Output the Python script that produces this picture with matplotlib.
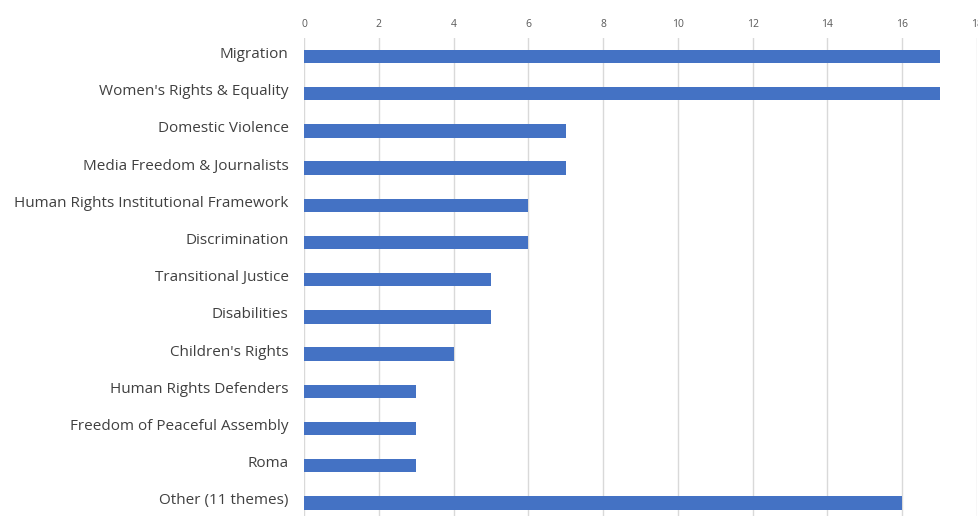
import matplotlib.pyplot as plt
from matplotlib.transforms import ScaledTranslation

themes = [
    "Migration",
    "Women's Rights & Equality",
    "Domestic Violence",
    "Media Freedom & Journalists",
    "Human Rights Institutional Framework",
    "Discrimination",
    "Transitional Justice",
    "Disabilities",
    "Children's Rights",
    "Human Rights Defenders",
    "Freedom of Peaceful Assembly",
    "Roma",
    "Other (11 themes)",
]
counts = [17, 17, 7, 7, 6, 6, 5, 5, 4, 3, 3, 3, 16]
x_ticks = [0, 2, 4, 6, 8, 10, 12, 14, 16, 18]

plt.rcParams["font.family"] = ["Open Sans", "DejaVu Sans"]

fig = plt.figure(figsize=(9.79, 5.16), dpi=100)
ax = fig.add_axes([304 / 979, 0.0, 673 / 979, 478 / 516])

pos = list(range(len(themes)))
ax.barh(pos, counts, height=0.36, color="#4472C4", zorder=3)

ax.set_xlim(0, 18)
ax.set_ylim(12.35, -0.5)
ax.set_xticks(x_ticks)
ax.set_yticks(pos)
ax.set_yticklabels(themes, fontsize=11, color="#404040")

ax.xaxis.tick_top()
ax.tick_params(axis="x", length=0, pad=6, labelsize=7.5, labelcolor="#595959")
ax.tick_params(axis="y", length=0, pad=11)
ax.grid(axis="x", color="#D9D9D9", linewidth=1, zorder=0)
for side in ["top", "right", "bottom", "left"]:
    ax.spines[side].set_visible(False)

# nudge the category labels up a little so they sit above the bar centres
shift = ScaledTranslation(0, 3 / 72, fig.dpi_scale_trans)
for lbl in ax.get_yticklabels():
    lbl.set_transform(lbl.get_transform() + shift)

fig.savefig("out.png", dpi=100)
